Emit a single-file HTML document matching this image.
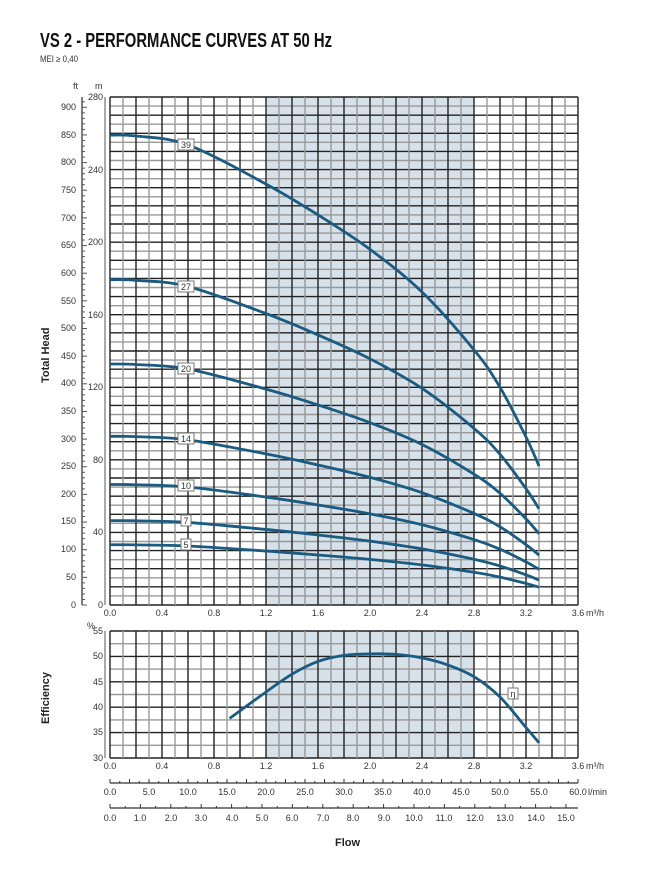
<!DOCTYPE html>
<html><head><meta charset="utf-8"><style>
body{margin:0;background:#fff;width:663px;height:878px;overflow:hidden}
svg{display:block}
text{font-family:"Liberation Sans Narrow","Liberation Sans",sans-serif;fill:#333}
.t{font-size:9px}
</style></head><body>
<svg id="s" width="663" height="878" viewBox="0 0 663 878">
<text x="40" y="47" font-size="20" font-weight="bold" fill="#111" textLength="292" lengthAdjust="spacingAndGlyphs" style="fill:#111">VS 2 - PERFORMANCE CURVES AT 50 Hz</text>
<text x="40" y="62" font-size="9" textLength="38" lengthAdjust="spacingAndGlyphs">MEI ≥ 0,40</text>
<rect x="266" y="97" width="208" height="508" fill="#d6e1ea"/>
<rect x="266" y="631" width="208" height="127" fill="#d6e1ea"/>
<g id="grid"></g>
<g id="curves"></g>
<g class="t" text-anchor="end">
<text x="103" y="100">280</text><text x="103" y="173">240</text><text x="103" y="245">200</text><text x="103" y="318">160</text><text x="103" y="390">120</text><text x="103" y="463">80</text><text x="103" y="535">40</text><text x="103" y="608">0</text>
<text x="76" y="110">900</text><text x="76" y="138">850</text><text x="76" y="165">800</text><text x="76" y="193">750</text><text x="76" y="221">700</text><text x="76" y="248">650</text><text x="76" y="276">600</text><text x="76" y="304">550</text><text x="76" y="331">500</text><text x="76" y="359">450</text><text x="76" y="386">400</text><text x="76" y="414">350</text><text x="76" y="442">300</text><text x="76" y="469">250</text><text x="76" y="497">200</text><text x="76" y="524">150</text><text x="76" y="552">100</text><text x="76" y="580">50</text><text x="76" y="608">0</text>
<text x="103" y="634">55</text><text x="103" y="659">50</text><text x="103" y="685">45</text><text x="103" y="710">40</text><text x="103" y="735">35</text><text x="103" y="761">30</text>
</g>
<text x="73" y="89" class="t">ft</text><text x="95" y="89" class="t">m</text><text x="87" y="629" class="t">%</text>
<g class="t" text-anchor="middle">
<text x="110" y="616">0.0</text><text x="162" y="616">0.4</text><text x="214" y="616">0.8</text><text x="266" y="616">1.2</text><text x="318" y="616">1.6</text><text x="370" y="616">2.0</text><text x="422" y="616">2.4</text><text x="474" y="616">2.8</text><text x="526" y="616">3.2</text><text x="578" y="616">3.6</text>
<text x="110" y="769">0.0</text><text x="162" y="769">0.4</text><text x="214" y="769">0.8</text><text x="266" y="769">1.2</text><text x="318" y="769">1.6</text><text x="370" y="769">2.0</text><text x="422" y="769">2.4</text><text x="474" y="769">2.8</text><text x="526" y="769">3.2</text><text x="578" y="769">3.6</text>
<text x="110" y="795">0.0</text><text x="149" y="795">5.0</text><text x="188" y="795">10.0</text><text x="227" y="795">15.0</text><text x="266" y="795">20.0</text><text x="305" y="795">25.0</text><text x="344" y="795">30.0</text><text x="383" y="795">35.0</text><text x="422" y="795">40.0</text><text x="461" y="795">45.0</text><text x="500" y="795">50.0</text><text x="539" y="795">55.0</text><text x="578" y="795">60.0</text>
<text x="110" y="821">0.0</text><text x="140" y="821">1.0</text><text x="171" y="821">2.0</text><text x="201" y="821">3.0</text><text x="232" y="821">4.0</text><text x="262" y="821">5.0</text><text x="292" y="821">6.0</text><text x="323" y="821">7.0</text><text x="353" y="821">8.0</text><text x="384" y="821">9.0</text><text x="414" y="821">10.0</text><text x="444" y="821">11.0</text><text x="475" y="821">12.0</text><text x="505" y="821">13.0</text><text x="536" y="821">14.0</text><text x="566" y="821">15.0</text>
</g>
<text x="586" y="616" class="t">m³/h</text><text x="586" y="769" class="t">m³/h</text><text x="588" y="795" class="t">l/min</text>
<text x="335" y="846" font-size="11" font-weight="bold" style="fill:#222">Flow</text>
<text transform="translate(49,383) rotate(-90)" font-size="11" font-weight="bold" style="fill:#222">Total Head</text>
<text transform="translate(49,724) rotate(-90)" font-size="11" font-weight="bold" style="fill:#222">Efficiency</text>
<g id="lab"></g>
<g id="labels" class="t" text-anchor="middle">
<text x="186" y="148">39</text><text x="186" y="290">27</text><text x="186" y="372">20</text><text x="186" y="442">14</text><text x="186" y="489">10</text><text x="186" y="524">7</text><text x="186" y="548">5</text><text x="513" y="697">η</text>
</g>
</svg>
<script>
const NS="http://www.w3.org/2000/svg",g=document.getElementById('grid'),c=document.getElementById('curves');
function L(p,x1,y1,x2,y2,w,col){const e=document.createElementNS(NS,'line');e.setAttribute('x1',x1);e.setAttribute('y1',y1);e.setAttribute('x2',x2);e.setAttribute('y2',y2);e.setAttribute('stroke',col);e.setAttribute('stroke-width',w);p.appendChild(e);}
const X=q=>110+q*130;
for(let i=0;i<=56;i++){const y=605-i*5*508/280;L(g,110,y,578,y,1.4,i%2?'#999':'#222');}
for(let i=0;i<=36;i++){const x=110+i*13;L(g,x,97,x,605,1.4,i%2?'#999':'#222');}
for(let i=0;i<=10;i++){const y=631+i*12.7;L(g,110,y,578,y,1.4,i%2?'#999':'#222');}
for(let i=0;i<=36;i++){const x=110+i*13;L(g,x,631,x,758,1.4,i%2?'#999':'#222');}
L(g,105,97,105,605,1,'#555');L(g,82,97,82,605,1.5,'#555');L(g,105,631,105,758,1,'#555');
for(let f=0;f<=920;f+=10){const y=605-f*0.3048*508/280;if(y<97)break;L(g,82,y,f%50?85:87,y,1,'#555');}
L(g,110,783,578,783,1.2,'#333');for(let i=0;i<=48;i++){const x=110+i*9.75;L(g,x,i%2?781:779,x,783,1,'#333');}
L(g,110,808,578,808,1.2,'#333');for(let i=0;i<=30;i++){const x=110+i*15.2;L(g,x,i%2?806:804,x,808,1,'#333');}
function path(pts){let d='M'+pts[0][0]+','+pts[0][1];for(let i=0;i<pts.length-1;i++){const p0=pts[Math.max(0,i-1)],p1=pts[i],p2=pts[i+1],p3=pts[Math.min(pts.length-1,i+2)];d+=` C${p1[0]+(p2[0]-p0[0])/6},${p1[1]+(p2[1]-p0[1])/6} ${p2[0]-(p3[0]-p1[0])/6},${p2[1]-(p3[1]-p1[1])/6} ${p2[0]},${p2[1]}`;}
const e=document.createElementNS(NS,'path');e.setAttribute('d',d);e.setAttribute('fill','none');e.setAttribute('stroke','#1b5b82');e.setAttribute('stroke-width',2.8);c.appendChild(e);}
const Q=[0,0.2,0.6,1.2,1.6,2.0,2.4,2.8,3.0,3.2,3.3],H=[259,258.5,253.6,232,215,196,172.5,140.6,120,92.6,76.6];
[39,27,20,14,10,7,5].forEach(n=>{path(Q.map((q,i)=>[X(q),605-H[i]*n/39*508/280]));});
const E=[[0.92,37.8],[1.2,43],[1.4,46.5],[1.6,49],[1.8,50.2],[2.0,50.5],[2.2,50.4],[2.4,49.7],[2.6,48.3],[2.8,46],[3.0,42],[3.2,36],[3.3,33]];
path(E.map(p=>[X(p[0]),631+(55-p[1])*127/25]));
document.querySelectorAll('#labels text').forEach(t=>{const x=+t.getAttribute('x'),y=+t.getAttribute('y');const r=document.createElementNS(NS,'rect');const w=t.textContent.length>1?16:10;r.setAttribute('x',x-w/2);r.setAttribute('y',y-9);r.setAttribute('width',w);r.setAttribute('height',11);r.setAttribute('fill','#fff');r.setAttribute('stroke','#777');document.getElementById('lab').appendChild(r);});
</script>
</body></html>
